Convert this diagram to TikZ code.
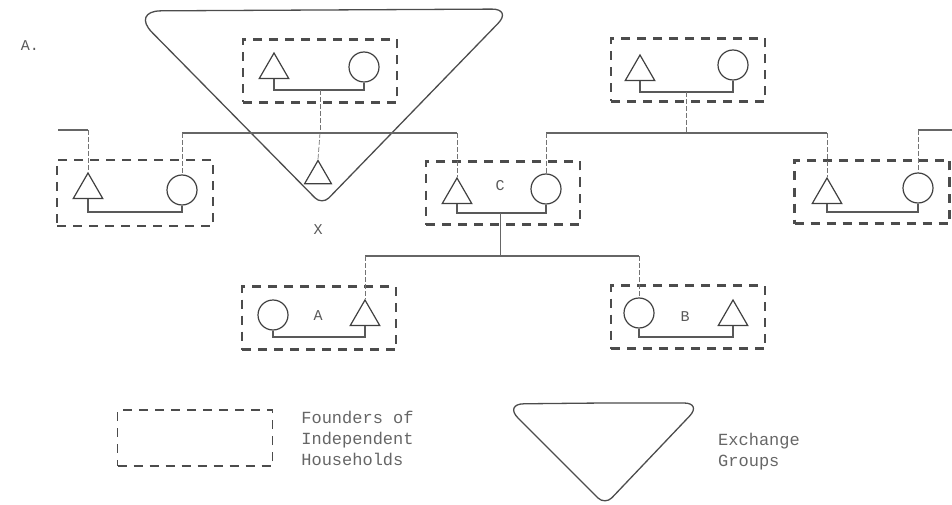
\documentclass[tikz,border=0pt]{standalone}
\usepackage{fontspec}
\setmonofont{Liberation Mono}
\usetikzlibrary{shapes.geometric, positioning}

\begin{document}
\begin{tikzpicture}[x=1pt, y=-1pt,
    hbox/.style={draw=black!70, line width=2.2pt, dash pattern=on 9pt off 7pt,
                 minimum width=154pt, minimum height=63pt, inner sep=0pt},
    man/.style={regular polygon, regular polygon sides=3, draw=black!75,
                line width=1.2pt, minimum size=34pt, inner sep=0pt},
    woman/.style={circle, draw=black!75, line width=1.2pt, minimum size=30pt, inner sep=0pt},
    wed/.style={line width=1.8pt, black!65},
    sib/.style={line width=1.8pt, black!60},
    drop/.style={line width=0.7pt, black!55, dash pattern=on 5pt off 2pt},
    xgroup/.style={line width=1.3pt, black!70},
    lbl/.style={font=\ttfamily\fontsize{15}{18}\selectfont, text=black!65, inner sep=0pt},
    note/.style={font=\ttfamily\fontsize{17}{21}\selectfont, text=black!60, align=left, inner sep=0pt}]

    \useasboundingbox (0,0) rectangle (952,505);

    % 1. exchange group round the top household
    \draw[xgroup] (320,10) [rounded corners=20pt] -- (512,9) [rounded corners=10pt]
        -- (322,205) [rounded corners=30pt] -- (131,11) -- cycle;

    % 2. households (dashed boxes) with husband and wife
    \node[hbox] (HTop) at (320,71) {};
    \node[man] (MTop) at (274,70) {};
    \node[woman] (FTop) at (364,67) {};
    \coordinate (WTop) at (320,90);

    \node[hbox] (HTR) at (688,70) {};
    \node[man] (MTR) at (640,72) {};
    \node[woman] (FTR) at (733,65) {};
    \coordinate (WTR) at (686,92);

    \node[hbox, minimum width=156pt, minimum height=66pt] (HLeft) at (135,193) {};
    \node[man] (MLeft) at (88,190) {};
    \node[woman] (FLeft) at (182,190) {};
    \coordinate (WLeft) at (135,212);

    \node[hbox] (HC) at (503,193) {};
    \node[man] (MC) at (457,195) {};
    \node[woman] (FC) at (546,189) {};
    \coordinate (WC) at (500,213);
    \node[lbl] (LabC) at (500,186) {C};

    \node[hbox, minimum width=155pt] (HRight) at (872,192) {};
    \node[man] (MRight) at (827,195) {};
    \node[woman] (FRight) at (918,188) {};
    \coordinate (WRight) at (872,212);

    \node[hbox] (HA) at (319,318) {};
    \node[woman] (FA) at (273,315) {};
    \node[man] (MA) at (365,317) {};
    \coordinate (WA) at (319,337);
    \node[lbl] (LabA) at (318,316) {A};

    \node[hbox] (HB) at (688,317) {};
    \node[woman] (FB) at (639,313) {};
    \node[man] (MB) at (733,317) {};
    \coordinate (WB) at (686,337);
    \node[lbl] (LabB) at (685,317) {B};

    % 3. single man of the exchange group
    \node[man, minimum size=31pt] (MX) at (318,176) {};
    \node[lbl] (LabX) at (318,230) {X};

    % 4. marriage lines
    \draw[wed] (MTop.south) |- (WTop) -| (FTop.south);
    \draw[wed] (MTR.south) |- (WTR) -| (FTR.south);
    \draw[wed] (MLeft.south) |- (WLeft) -| (FLeft.south);
    \draw[wed] (MC.south) |- (WC) -| (FC.south);
    \draw[wed] (MRight.south) |- (WRight) -| (FRight.south);
    \draw[wed] (FA.south) |- (WA) -| (MA.south);
    \draw[wed] (FB.south) |- (WB) -| (MB.south);

    % 5. sibling lines and descent
    \coordinate (S1) at (320,133);
    \coordinate (S2) at (500,256);
    \coordinate (S3) at (686,133);
    \coordinate (OutL) at (58,130);
    \coordinate (OutR) at (952,130);

    \draw[drop] (WTop) -- (S1);
    \draw[sib] (FLeft.north |- S1) -- (MC.north |- S1);
    \draw[drop] (FLeft.north |- S1) -- (FLeft.north);
    \draw[drop] (S1) -- (MX.north);
    \draw[drop] (MC.north |- S1) -- (MC.north);

    \draw[drop] (WTR) -- (S3);
    \draw[sib] (FC.north |- S3) -- (MRight.north |- S3);
    \draw[drop] (FC.north |- S3) -- (FC.north);
    \draw[drop] (MRight.north |- S3) -- (MRight.north);

    \draw[line width=1pt, black!60] (WC) -- (S2);
    \draw[sib] (MA.north |- S2) -- (FB.north |- S2);
    \draw[drop] (MA.north |- S2) -- (MA.north);
    \draw[drop] (FB.north |- S2) -- (FB.north);

    \draw[sib] (OutL) -- (OutL -| MLeft.north);
    \draw[drop] (OutL -| MLeft.north) -- (MLeft.north);
    \draw[sib] (OutR) -- (OutR -| FRight.north);
    \draw[drop] (OutR -| FRight.north) -- (FRight.north);

    % 6. key
    \node[lbl] (LabFig) at (30,46) {A.};
    \node[hbox, minimum width=155pt, minimum height=56pt, line width=1.3pt] (Key1) at (195,438) {};
    \node[note, right=28pt of Key1] (KeyT1) {Founders of\\Independent\\Households};
    \draw[xgroup] (600,403) [rounded corners=18pt] -- (702,403) [rounded corners=10pt]
        -- (605,505) [rounded corners=20pt] -- (504,404) -- cycle;
    \node[note, anchor=west] (KeyT2) at (718,452) {Exchange\\Groups};
\end{tikzpicture}
\end{document}
